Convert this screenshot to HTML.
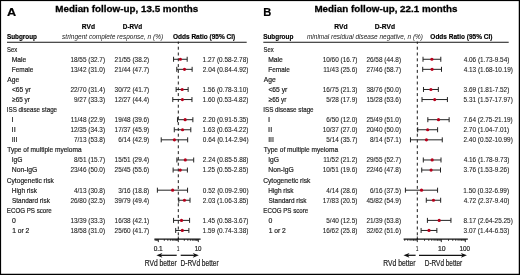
<!DOCTYPE html>
<html><head><meta charset="utf-8"><style>
html,body{margin:0;padding:0;background:#fff;}
body{width:520px;height:275px;overflow:hidden;}
svg{display:block;font-family:"Liberation Sans", sans-serif;}
.t{filter:grayscale(1);}
</style></head><body>
<svg width="520" height="275" viewBox="0 0 520 275">
<rect x="0" y="0" width="520" height="275" fill="#fff"/>
<rect x="7" y="41.75" width="239.70" height="1.05" fill="#222"/>
<line x1="178.3" y1="41.6" x2="178.3" y2="239" stroke="#1a1a1a" stroke-width="1" stroke-dasharray="3 2.8" stroke-dashoffset="0.7"/>
<line x1="173.57" y1="59.27" x2="187.18" y2="59.27" stroke="#222" stroke-width="1"/>
<line x1="173.57" y1="56.77" x2="173.57" y2="61.77" stroke="#222" stroke-width="1"/>
<line x1="187.18" y1="56.77" x2="187.18" y2="61.77" stroke="#222" stroke-width="1"/>
<circle cx="180.38" cy="59.27" r="1.6" fill="#b8001c"/>
<line x1="176.79" y1="69.34" x2="192.14" y2="69.34" stroke="#222" stroke-width="1"/>
<line x1="176.79" y1="66.84" x2="176.79" y2="71.84" stroke="#222" stroke-width="1"/>
<line x1="192.14" y1="66.84" x2="192.14" y2="71.84" stroke="#222" stroke-width="1"/>
<circle cx="184.49" cy="69.34" r="1.6" fill="#b8001c"/>
<line x1="176.14" y1="89.48" x2="188.13" y2="89.48" stroke="#222" stroke-width="1"/>
<line x1="176.14" y1="86.98" x2="176.14" y2="91.98" stroke="#222" stroke-width="1"/>
<line x1="188.13" y1="86.98" x2="188.13" y2="91.98" stroke="#222" stroke-width="1"/>
<circle cx="182.16" cy="89.48" r="1.6" fill="#b8001c"/>
<line x1="172.79" y1="99.55" x2="191.96" y2="99.55" stroke="#222" stroke-width="1"/>
<line x1="172.79" y1="97.05" x2="172.79" y2="102.05" stroke="#222" stroke-width="1"/>
<line x1="191.96" y1="97.05" x2="191.96" y2="102.05" stroke="#222" stroke-width="1"/>
<circle cx="182.38" cy="99.55" r="1.6" fill="#b8001c"/>
<line x1="177.48" y1="119.69" x2="192.87" y2="119.69" stroke="#222" stroke-width="1"/>
<line x1="177.48" y1="117.19" x2="177.48" y2="122.19" stroke="#222" stroke-width="1"/>
<line x1="192.87" y1="117.19" x2="192.87" y2="122.19" stroke="#222" stroke-width="1"/>
<circle cx="185.15" cy="119.69" r="1.6" fill="#b8001c"/>
<line x1="174.29" y1="129.76" x2="190.81" y2="129.76" stroke="#222" stroke-width="1"/>
<line x1="174.29" y1="127.26" x2="174.29" y2="132.26" stroke="#222" stroke-width="1"/>
<line x1="190.81" y1="127.26" x2="190.81" y2="132.26" stroke="#222" stroke-width="1"/>
<circle cx="182.54" cy="129.76" r="1.6" fill="#b8001c"/>
<line x1="161.22" y1="139.83" x2="187.67" y2="139.83" stroke="#222" stroke-width="1"/>
<line x1="161.22" y1="137.33" x2="161.22" y2="142.33" stroke="#222" stroke-width="1"/>
<line x1="187.67" y1="137.33" x2="187.67" y2="142.33" stroke="#222" stroke-width="1"/>
<circle cx="174.42" cy="139.83" r="1.6" fill="#b8001c"/>
<line x1="176.89" y1="159.97" x2="193.69" y2="159.97" stroke="#222" stroke-width="1"/>
<line x1="176.89" y1="157.47" x2="176.89" y2="162.47" stroke="#222" stroke-width="1"/>
<line x1="193.69" y1="157.47" x2="193.69" y2="162.47" stroke="#222" stroke-width="1"/>
<circle cx="185.30" cy="159.97" r="1.6" fill="#b8001c"/>
<line x1="173.11" y1="170.04" x2="187.40" y2="170.04" stroke="#222" stroke-width="1"/>
<line x1="173.11" y1="167.54" x2="173.11" y2="172.54" stroke="#222" stroke-width="1"/>
<line x1="187.40" y1="167.54" x2="187.40" y2="172.54" stroke="#222" stroke-width="1"/>
<circle cx="180.24" cy="170.04" r="1.6" fill="#b8001c"/>
<line x1="157.38" y1="190.18" x2="187.55" y2="190.18" stroke="#222" stroke-width="1"/>
<line x1="157.38" y1="187.68" x2="157.38" y2="192.68" stroke="#222" stroke-width="1"/>
<line x1="187.55" y1="187.68" x2="187.55" y2="192.68" stroke="#222" stroke-width="1"/>
<circle cx="172.62" cy="190.18" r="1.6" fill="#b8001c"/>
<line x1="178.81" y1="200.25" x2="190.01" y2="200.25" stroke="#222" stroke-width="1"/>
<line x1="178.81" y1="197.75" x2="178.81" y2="202.75" stroke="#222" stroke-width="1"/>
<line x1="190.01" y1="197.75" x2="190.01" y2="202.75" stroke="#222" stroke-width="1"/>
<circle cx="184.45" cy="200.25" r="1.6" fill="#b8001c"/>
<line x1="173.57" y1="220.39" x2="189.59" y2="220.39" stroke="#222" stroke-width="1"/>
<line x1="173.57" y1="217.89" x2="173.57" y2="222.89" stroke="#222" stroke-width="1"/>
<line x1="189.59" y1="217.89" x2="189.59" y2="222.89" stroke="#222" stroke-width="1"/>
<circle cx="181.53" cy="220.39" r="1.6" fill="#b8001c"/>
<line x1="175.68" y1="230.46" x2="188.88" y2="230.46" stroke="#222" stroke-width="1"/>
<line x1="175.68" y1="227.96" x2="175.68" y2="232.96" stroke="#222" stroke-width="1"/>
<line x1="188.88" y1="227.96" x2="188.88" y2="232.96" stroke="#222" stroke-width="1"/>
<circle cx="182.33" cy="230.46" r="1.6" fill="#b8001c"/>
<line x1="154.4" y1="239.1" x2="200.6" y2="239.1" stroke="#111" stroke-width="1.2"/>
<line x1="155.20" y1="239.10" x2="155.20" y2="240.90" stroke="#111" stroke-width="0.8"/>
<line x1="156.36" y1="239.10" x2="156.36" y2="240.90" stroke="#111" stroke-width="0.8"/>
<line x1="157.38" y1="239.10" x2="157.38" y2="240.90" stroke="#111" stroke-width="0.8"/>
<line x1="158.30" y1="239.10" x2="158.30" y2="242.10" stroke="#111" stroke-width="0.9"/>
<line x1="164.32" y1="239.10" x2="164.32" y2="240.90" stroke="#111" stroke-width="0.8"/>
<line x1="167.84" y1="239.10" x2="167.84" y2="240.90" stroke="#111" stroke-width="0.8"/>
<line x1="170.34" y1="239.10" x2="170.34" y2="240.90" stroke="#111" stroke-width="0.8"/>
<line x1="172.28" y1="239.10" x2="172.28" y2="240.90" stroke="#111" stroke-width="0.8"/>
<line x1="173.86" y1="239.10" x2="173.86" y2="240.90" stroke="#111" stroke-width="0.8"/>
<line x1="175.20" y1="239.10" x2="175.20" y2="240.90" stroke="#111" stroke-width="0.8"/>
<line x1="176.36" y1="239.10" x2="176.36" y2="240.90" stroke="#111" stroke-width="0.8"/>
<line x1="177.38" y1="239.10" x2="177.38" y2="240.90" stroke="#111" stroke-width="0.8"/>
<line x1="178.30" y1="236.50" x2="178.30" y2="242.10" stroke="#111" stroke-width="0.9"/>
<line x1="184.32" y1="239.10" x2="184.32" y2="240.90" stroke="#111" stroke-width="0.8"/>
<line x1="187.84" y1="239.10" x2="187.84" y2="240.90" stroke="#111" stroke-width="0.8"/>
<line x1="190.34" y1="239.10" x2="190.34" y2="240.90" stroke="#111" stroke-width="0.8"/>
<line x1="192.28" y1="239.10" x2="192.28" y2="240.90" stroke="#111" stroke-width="0.8"/>
<line x1="193.86" y1="239.10" x2="193.86" y2="240.90" stroke="#111" stroke-width="0.8"/>
<line x1="195.20" y1="239.10" x2="195.20" y2="240.90" stroke="#111" stroke-width="0.8"/>
<line x1="196.36" y1="239.10" x2="196.36" y2="240.90" stroke="#111" stroke-width="0.8"/>
<line x1="197.38" y1="239.10" x2="197.38" y2="240.90" stroke="#111" stroke-width="0.8"/>
<line x1="198.30" y1="239.10" x2="198.30" y2="242.10" stroke="#111" stroke-width="0.9"/>
<line x1="160.4" y1="255.3" x2="176.7" y2="255.3" stroke="#111" stroke-width="1.25"/>
<path d="M156.4 255.3 L162.4 252.95000000000002 L160.8 255.3 L162.4 257.65000000000003 Z" fill="#111"/>
<line x1="180.7" y1="255.3" x2="194.8" y2="255.3" stroke="#111" stroke-width="1.25"/>
<path d="M198.8 255.3 L192.8 252.95000000000002 L194.4 255.3 L192.8 257.65000000000003 Z" fill="#111"/>
<rect x="263.3" y="41.75" width="245.40" height="1.05" fill="#222"/>
<line x1="417.3" y1="41.6" x2="417.3" y2="239" stroke="#1a1a1a" stroke-width="1" stroke-dasharray="3 2.8" stroke-dashoffset="0.7"/>
<line x1="423.01" y1="59.27" x2="440.81" y2="59.27" stroke="#222" stroke-width="1"/>
<line x1="423.01" y1="56.77" x2="423.01" y2="61.77" stroke="#222" stroke-width="1"/>
<line x1="440.81" y1="56.77" x2="440.81" y2="61.77" stroke="#222" stroke-width="1"/>
<circle cx="431.90" cy="59.27" r="1.6" fill="#b8001c"/>
<line x1="422.71" y1="69.34" x2="441.50" y2="69.34" stroke="#222" stroke-width="1"/>
<line x1="422.71" y1="66.84" x2="422.71" y2="71.84" stroke="#222" stroke-width="1"/>
<line x1="441.50" y1="66.84" x2="441.50" y2="71.84" stroke="#222" stroke-width="1"/>
<circle cx="432.08" cy="69.34" r="1.6" fill="#b8001c"/>
<line x1="423.48" y1="89.48" x2="438.33" y2="89.48" stroke="#222" stroke-width="1"/>
<line x1="423.48" y1="86.98" x2="423.48" y2="91.98" stroke="#222" stroke-width="1"/>
<line x1="438.33" y1="86.98" x2="438.33" y2="91.98" stroke="#222" stroke-width="1"/>
<circle cx="430.91" cy="89.48" r="1.6" fill="#b8001c"/>
<line x1="422.00" y1="99.55" x2="447.41" y2="99.55" stroke="#222" stroke-width="1"/>
<line x1="422.00" y1="97.05" x2="422.00" y2="102.05" stroke="#222" stroke-width="1"/>
<line x1="447.41" y1="97.05" x2="447.41" y2="102.05" stroke="#222" stroke-width="1"/>
<circle cx="434.70" cy="99.55" r="1.6" fill="#b8001c"/>
<line x1="427.84" y1="119.69" x2="449.13" y2="119.69" stroke="#222" stroke-width="1"/>
<line x1="427.84" y1="117.19" x2="427.84" y2="122.19" stroke="#222" stroke-width="1"/>
<line x1="449.13" y1="117.19" x2="449.13" y2="122.19" stroke="#222" stroke-width="1"/>
<circle cx="438.49" cy="119.69" r="1.6" fill="#b8001c"/>
<line x1="417.71" y1="129.76" x2="437.60" y2="129.76" stroke="#222" stroke-width="1"/>
<line x1="417.71" y1="127.26" x2="417.71" y2="132.26" stroke="#222" stroke-width="1"/>
<line x1="437.60" y1="127.26" x2="437.60" y2="132.26" stroke="#222" stroke-width="1"/>
<circle cx="427.65" cy="129.76" r="1.6" fill="#b8001c"/>
<line x1="410.48" y1="139.83" x2="442.28" y2="139.83" stroke="#222" stroke-width="1"/>
<line x1="410.48" y1="137.33" x2="410.48" y2="142.33" stroke="#222" stroke-width="1"/>
<line x1="442.28" y1="137.33" x2="442.28" y2="142.33" stroke="#222" stroke-width="1"/>
<circle cx="426.43" cy="139.83" r="1.6" fill="#b8001c"/>
<line x1="423.31" y1="159.97" x2="441.01" y2="159.97" stroke="#222" stroke-width="1"/>
<line x1="423.31" y1="157.47" x2="423.31" y2="162.47" stroke="#222" stroke-width="1"/>
<line x1="441.01" y1="157.47" x2="441.01" y2="162.47" stroke="#222" stroke-width="1"/>
<circle cx="432.16" cy="159.97" r="1.6" fill="#b8001c"/>
<line x1="421.73" y1="170.04" x2="440.50" y2="170.04" stroke="#222" stroke-width="1"/>
<line x1="421.73" y1="167.54" x2="421.73" y2="172.54" stroke="#222" stroke-width="1"/>
<line x1="440.50" y1="167.54" x2="440.50" y2="172.54" stroke="#222" stroke-width="1"/>
<circle cx="431.10" cy="170.04" r="1.6" fill="#b8001c"/>
<line x1="405.42" y1="190.18" x2="437.57" y2="190.18" stroke="#222" stroke-width="1"/>
<line x1="405.42" y1="187.68" x2="405.42" y2="192.68" stroke="#222" stroke-width="1"/>
<line x1="437.57" y1="187.68" x2="437.57" y2="192.68" stroke="#222" stroke-width="1"/>
<circle cx="421.53" cy="190.18" r="1.6" fill="#b8001c"/>
<line x1="426.29" y1="200.25" x2="440.66" y2="200.25" stroke="#222" stroke-width="1"/>
<line x1="426.29" y1="197.75" x2="426.29" y2="202.75" stroke="#222" stroke-width="1"/>
<line x1="440.66" y1="197.75" x2="440.66" y2="202.75" stroke="#222" stroke-width="1"/>
<circle cx="433.47" cy="200.25" r="1.6" fill="#b8001c"/>
<line x1="427.42" y1="220.39" x2="450.95" y2="220.39" stroke="#222" stroke-width="1"/>
<line x1="427.42" y1="217.89" x2="427.42" y2="222.89" stroke="#222" stroke-width="1"/>
<line x1="450.95" y1="217.89" x2="450.95" y2="222.89" stroke="#222" stroke-width="1"/>
<circle cx="439.19" cy="220.39" r="1.6" fill="#b8001c"/>
<line x1="421.10" y1="230.46" x2="436.86" y2="230.46" stroke="#222" stroke-width="1"/>
<line x1="421.10" y1="227.96" x2="421.10" y2="232.96" stroke="#222" stroke-width="1"/>
<line x1="436.86" y1="227.96" x2="436.86" y2="232.96" stroke="#222" stroke-width="1"/>
<circle cx="428.99" cy="230.46" r="1.6" fill="#b8001c"/>
<line x1="403.6" y1="239.1" x2="467.8" y2="239.1" stroke="#111" stroke-width="1.2"/>
<line x1="404.75" y1="239.10" x2="404.75" y2="240.90" stroke="#111" stroke-width="0.8"/>
<line x1="407.75" y1="239.10" x2="407.75" y2="240.90" stroke="#111" stroke-width="0.8"/>
<line x1="410.08" y1="239.10" x2="410.08" y2="240.90" stroke="#111" stroke-width="0.8"/>
<line x1="411.98" y1="239.10" x2="411.98" y2="240.90" stroke="#111" stroke-width="0.8"/>
<line x1="413.58" y1="239.10" x2="413.58" y2="240.90" stroke="#111" stroke-width="0.8"/>
<line x1="414.97" y1="239.10" x2="414.97" y2="240.90" stroke="#111" stroke-width="0.8"/>
<line x1="416.20" y1="239.10" x2="416.20" y2="240.90" stroke="#111" stroke-width="0.8"/>
<line x1="417.30" y1="236.50" x2="417.30" y2="242.10" stroke="#111" stroke-width="0.9"/>
<line x1="424.52" y1="239.10" x2="424.52" y2="240.90" stroke="#111" stroke-width="0.8"/>
<line x1="428.75" y1="239.10" x2="428.75" y2="240.90" stroke="#111" stroke-width="0.8"/>
<line x1="431.75" y1="239.10" x2="431.75" y2="240.90" stroke="#111" stroke-width="0.8"/>
<line x1="434.08" y1="239.10" x2="434.08" y2="240.90" stroke="#111" stroke-width="0.8"/>
<line x1="435.98" y1="239.10" x2="435.98" y2="240.90" stroke="#111" stroke-width="0.8"/>
<line x1="437.58" y1="239.10" x2="437.58" y2="240.90" stroke="#111" stroke-width="0.8"/>
<line x1="438.97" y1="239.10" x2="438.97" y2="240.90" stroke="#111" stroke-width="0.8"/>
<line x1="440.20" y1="239.10" x2="440.20" y2="240.90" stroke="#111" stroke-width="0.8"/>
<line x1="441.30" y1="239.10" x2="441.30" y2="242.10" stroke="#111" stroke-width="0.9"/>
<line x1="448.52" y1="239.10" x2="448.52" y2="240.90" stroke="#111" stroke-width="0.8"/>
<line x1="452.75" y1="239.10" x2="452.75" y2="240.90" stroke="#111" stroke-width="0.8"/>
<line x1="455.75" y1="239.10" x2="455.75" y2="240.90" stroke="#111" stroke-width="0.8"/>
<line x1="458.08" y1="239.10" x2="458.08" y2="240.90" stroke="#111" stroke-width="0.8"/>
<line x1="459.98" y1="239.10" x2="459.98" y2="240.90" stroke="#111" stroke-width="0.8"/>
<line x1="461.58" y1="239.10" x2="461.58" y2="240.90" stroke="#111" stroke-width="0.8"/>
<line x1="462.97" y1="239.10" x2="462.97" y2="240.90" stroke="#111" stroke-width="0.8"/>
<line x1="464.20" y1="239.10" x2="464.20" y2="240.90" stroke="#111" stroke-width="0.8"/>
<line x1="465.30" y1="239.10" x2="465.30" y2="242.10" stroke="#111" stroke-width="0.9"/>
<line x1="407.5" y1="255.3" x2="415.6" y2="255.3" stroke="#111" stroke-width="1.25"/>
<path d="M403.5 255.3 L409.5 252.95000000000002 L407.9 255.3 L409.5 257.65000000000003 Z" fill="#111"/>
<line x1="419" y1="255.3" x2="462.9" y2="255.3" stroke="#111" stroke-width="1.25"/>
<path d="M466.9 255.3 L460.9 252.95000000000002 L462.5 255.3 L460.9 257.65000000000003 Z" fill="#111"/>
<g class="t">
<text transform="translate(6.98 15.60) scale(1.1129 1)" font-size="11.4" font-weight="bold" stroke="#000" stroke-width="0.2" fill="#000">A</text>
<text transform="translate(55.24 12.00) scale(0.9942 1)" font-size="9.9" font-weight="bold" stroke="#000" stroke-width="0.3" fill="#000">Median follow-up, 13.5 months</text>
<text transform="translate(81.85 28.60) scale(0.9247 1)" font-size="7.2" font-weight="bold" stroke="#000" stroke-width="0.2" fill="#000">RVd</text>
<text transform="translate(122.77 28.60) scale(0.8893 1)" font-size="7.2" font-weight="bold" stroke="#000" stroke-width="0.2" fill="#000">D-RVd</text>
<text transform="translate(6.91 39.10) scale(0.8749 1)" font-size="7.3" font-weight="bold" stroke="#000" stroke-width="0.2" fill="#000">Subgroup</text>
<text transform="translate(62.08 38.60) scale(0.9064 1)" font-size="7.2" stroke="#222" stroke-width="0.0001" font-style="italic" fill="#222">stringent complete response, n (%)</text>
<text transform="translate(172.94 38.80) scale(0.8956 1)" font-size="7.3" font-weight="bold" stroke="#000" stroke-width="0.2" fill="#000">Odds Ratio (95% CI)</text>
<text transform="translate(7.04 51.60) scale(0.7954 1)" font-size="7.4" stroke="#1c1c1c" stroke-width="0.2" fill="#1c1c1c">Sex</text>
<text transform="translate(11.74 61.67) scale(0.9130 1)" font-size="7.4" stroke="#1c1c1c" stroke-width="0.2" fill="#1c1c1c">Male</text>
<text transform="translate(70.39 61.67) scale(0.8700 1)" font-size="7.4" stroke="#1c1c1c" stroke-width="0.1" fill="#1c1c1c">18/55 (32.7)</text>
<text transform="translate(114.59 61.67) scale(0.8700 1)" font-size="7.4" stroke="#1c1c1c" stroke-width="0.1" fill="#1c1c1c">21/55 (38.2)</text>
<text transform="translate(202.62 61.67) scale(0.8700 1)" font-size="7.4" stroke="#1c1c1c" stroke-width="0.1" fill="#1c1c1c">1.27 (0.58-2.78)</text>
<text transform="translate(11.77 71.74) scale(0.8721 1)" font-size="7.4" stroke="#1c1c1c" stroke-width="0.2" fill="#1c1c1c">Female</text>
<text transform="translate(70.39 71.74) scale(0.8700 1)" font-size="7.4" stroke="#1c1c1c" stroke-width="0.1" fill="#1c1c1c">13/42 (31.0)</text>
<text transform="translate(114.59 71.74) scale(0.8700 1)" font-size="7.4" stroke="#1c1c1c" stroke-width="0.1" fill="#1c1c1c">21/44 (47.7)</text>
<text transform="translate(202.78 71.74) scale(0.8700 1)" font-size="7.4" stroke="#1c1c1c" stroke-width="0.1" fill="#1c1c1c">2.04 (0.84-4.92)</text>
<text transform="translate(7.28 81.81) scale(0.9048 1)" font-size="7.4" stroke="#1c1c1c" stroke-width="0.2" fill="#1c1c1c">Age</text>
<text transform="translate(11.96 91.88) scale(0.9066 1)" font-size="7.4" stroke="#1c1c1c" stroke-width="0.2" fill="#1c1c1c">&lt;65 yr</text>
<text transform="translate(70.39 91.88) scale(0.8700 1)" font-size="7.4" stroke="#1c1c1c" stroke-width="0.1" fill="#1c1c1c">22/70 (31.4)</text>
<text transform="translate(114.59 91.88) scale(0.8700 1)" font-size="7.4" stroke="#1c1c1c" stroke-width="0.1" fill="#1c1c1c">30/72 (41.7)</text>
<text transform="translate(202.62 91.88) scale(0.8700 1)" font-size="7.4" stroke="#1c1c1c" stroke-width="0.1" fill="#1c1c1c">1.56 (0.78-3.10)</text>
<text transform="translate(12.09 101.95) scale(0.8728 1)" font-size="7.4" stroke="#1c1c1c" stroke-width="0.2" fill="#1c1c1c">≥65 yr</text>
<text transform="translate(73.97 101.95) scale(0.8700 1)" font-size="7.4" stroke="#1c1c1c" stroke-width="0.1" fill="#1c1c1c">9/27 (33.3)</text>
<text transform="translate(114.59 101.95) scale(0.8700 1)" font-size="7.4" stroke="#1c1c1c" stroke-width="0.1" fill="#1c1c1c">12/27 (44.4)</text>
<text transform="translate(202.62 101.95) scale(0.8700 1)" font-size="7.4" stroke="#1c1c1c" stroke-width="0.1" fill="#1c1c1c">1.60 (0.53-4.82)</text>
<text transform="translate(6.72 112.02) scale(0.8458 1)" font-size="7.4" stroke="#1c1c1c" stroke-width="0.2" fill="#1c1c1c">ISS disease stage</text>
<text transform="translate(11.60 122.09) scale(1.0226 1)" font-size="7.4" stroke="#1c1c1c" stroke-width="0.2" fill="#1c1c1c">I</text>
<text transform="translate(70.87 122.09) scale(0.8700 1)" font-size="7.4" stroke="#1c1c1c" stroke-width="0.1" fill="#1c1c1c">11/48 (22.9)</text>
<text transform="translate(114.59 122.09) scale(0.8700 1)" font-size="7.4" stroke="#1c1c1c" stroke-width="0.1" fill="#1c1c1c">19/48 (39.6)</text>
<text transform="translate(202.78 122.09) scale(0.8700 1)" font-size="7.4" stroke="#1c1c1c" stroke-width="0.1" fill="#1c1c1c">2.20 (0.91-5.35)</text>
<text transform="translate(11.62 132.16) scale(0.9861 1)" font-size="7.4" stroke="#1c1c1c" stroke-width="0.2" fill="#1c1c1c">II</text>
<text transform="translate(70.39 132.16) scale(0.8700 1)" font-size="7.4" stroke="#1c1c1c" stroke-width="0.1" fill="#1c1c1c">12/35 (34.3)</text>
<text transform="translate(114.59 132.16) scale(0.8700 1)" font-size="7.4" stroke="#1c1c1c" stroke-width="0.1" fill="#1c1c1c">17/37 (45.9)</text>
<text transform="translate(202.62 132.16) scale(0.8700 1)" font-size="7.4" stroke="#1c1c1c" stroke-width="0.1" fill="#1c1c1c">1.63 (0.63-4.22)</text>
<text transform="translate(11.66 142.23) scale(0.9392 1)" font-size="7.4" stroke="#1c1c1c" stroke-width="0.2" fill="#1c1c1c">III</text>
<text transform="translate(73.97 142.23) scale(0.8700 1)" font-size="7.4" stroke="#1c1c1c" stroke-width="0.1" fill="#1c1c1c">7/13 (53.8)</text>
<text transform="translate(118.17 142.23) scale(0.8700 1)" font-size="7.4" stroke="#1c1c1c" stroke-width="0.1" fill="#1c1c1c">6/14 (42.9)</text>
<text transform="translate(202.84 142.23) scale(0.8700 1)" font-size="7.4" stroke="#1c1c1c" stroke-width="0.1" fill="#1c1c1c">0.64 (0.14-2.94)</text>
<text transform="translate(7.25 152.30) scale(0.8874 1)" font-size="7.4" stroke="#1c1c1c" stroke-width="0.2" fill="#1c1c1c">Type of multiple myeloma</text>
<text transform="translate(11.68 162.37) scale(0.9071 1)" font-size="7.4" stroke="#1c1c1c" stroke-width="0.2" fill="#1c1c1c">IgG</text>
<text transform="translate(73.97 162.37) scale(0.8700 1)" font-size="7.4" stroke="#1c1c1c" stroke-width="0.1" fill="#1c1c1c">8/51 (15.7)</text>
<text transform="translate(114.59 162.37) scale(0.8700 1)" font-size="7.4" stroke="#1c1c1c" stroke-width="0.1" fill="#1c1c1c">15/51 (29.4)</text>
<text transform="translate(202.78 162.37) scale(0.8700 1)" font-size="7.4" stroke="#1c1c1c" stroke-width="0.1" fill="#1c1c1c">2.24 (0.85-5.88)</text>
<text transform="translate(11.74 172.44) scale(0.9177 1)" font-size="7.4" stroke="#1c1c1c" stroke-width="0.2" fill="#1c1c1c">Non-IgG</text>
<text transform="translate(70.39 172.44) scale(0.8700 1)" font-size="7.4" stroke="#1c1c1c" stroke-width="0.1" fill="#1c1c1c">23/46 (50.0)</text>
<text transform="translate(114.59 172.44) scale(0.8700 1)" font-size="7.4" stroke="#1c1c1c" stroke-width="0.1" fill="#1c1c1c">25/45 (55.6)</text>
<text transform="translate(202.62 172.44) scale(0.8700 1)" font-size="7.4" stroke="#1c1c1c" stroke-width="0.1" fill="#1c1c1c">1.25 (0.55-2.85)</text>
<text transform="translate(6.77 182.51) scale(0.8971 1)" font-size="7.4" stroke="#1c1c1c" stroke-width="0.2" fill="#1c1c1c">Cytogenetic risk</text>
<text transform="translate(11.77 192.58) scale(0.8731 1)" font-size="7.4" stroke="#1c1c1c" stroke-width="0.2" fill="#1c1c1c">High risk</text>
<text transform="translate(73.97 192.58) scale(0.8700 1)" font-size="7.4" stroke="#1c1c1c" stroke-width="0.1" fill="#1c1c1c">4/13 (30.8)</text>
<text transform="translate(118.17 192.58) scale(0.8700 1)" font-size="7.4" stroke="#1c1c1c" stroke-width="0.1" fill="#1c1c1c">3/16 (18.8)</text>
<text transform="translate(202.84 192.58) scale(0.8700 1)" font-size="7.4" stroke="#1c1c1c" stroke-width="0.1" fill="#1c1c1c">0.52 (0.09-2.90)</text>
<text transform="translate(12.01 202.65) scale(0.8689 1)" font-size="7.4" stroke="#1c1c1c" stroke-width="0.2" fill="#1c1c1c">Standard risk</text>
<text transform="translate(70.39 202.65) scale(0.8700 1)" font-size="7.4" stroke="#1c1c1c" stroke-width="0.1" fill="#1c1c1c">26/80 (32.5)</text>
<text transform="translate(114.59 202.65) scale(0.8700 1)" font-size="7.4" stroke="#1c1c1c" stroke-width="0.1" fill="#1c1c1c">39/79 (49.4)</text>
<text transform="translate(202.78 202.65) scale(0.8700 1)" font-size="7.4" stroke="#1c1c1c" stroke-width="0.1" fill="#1c1c1c">2.03 (1.06-3.85)</text>
<text transform="translate(6.79 212.72) scale(0.8367 1)" font-size="7.4" stroke="#1c1c1c" stroke-width="0.2" fill="#1c1c1c">ECOG PS score</text>
<text transform="translate(12.02 222.79) scale(0.9339 1)" font-size="7.4" stroke="#1c1c1c" stroke-width="0.2" fill="#1c1c1c">0</text>
<text transform="translate(70.39 222.79) scale(0.8700 1)" font-size="7.4" stroke="#1c1c1c" stroke-width="0.1" fill="#1c1c1c">13/39 (33.3)</text>
<text transform="translate(114.59 222.79) scale(0.8700 1)" font-size="7.4" stroke="#1c1c1c" stroke-width="0.1" fill="#1c1c1c">16/38 (42.1)</text>
<text transform="translate(202.62 222.79) scale(0.8700 1)" font-size="7.4" stroke="#1c1c1c" stroke-width="0.1" fill="#1c1c1c">1.45 (0.58-3.67)</text>
<text transform="translate(12.20 232.86) scale(0.9065 1)" font-size="7.4" stroke="#1c1c1c" stroke-width="0.2" fill="#1c1c1c">1 or 2</text>
<text transform="translate(70.39 232.86) scale(0.8700 1)" font-size="7.4" stroke="#1c1c1c" stroke-width="0.1" fill="#1c1c1c">18/58 (31.0)</text>
<text transform="translate(114.59 232.86) scale(0.8700 1)" font-size="7.4" stroke="#1c1c1c" stroke-width="0.1" fill="#1c1c1c">25/60 (41.7)</text>
<text transform="translate(202.62 232.86) scale(0.8700 1)" font-size="7.4" stroke="#1c1c1c" stroke-width="0.1" fill="#1c1c1c">1.59 (0.74-3.38)</text>
<text transform="translate(153.64 251.30) scale(0.9458 1)" font-size="6.9" stroke="#1c1c1c" stroke-width="0.2" fill="#1c1c1c">0.1</text>
<text transform="translate(176.99 251.30) scale(0.6032 1)" font-size="6.9" stroke="#1c1c1c" stroke-width="0.2" fill="#1c1c1c">1</text>
<text transform="translate(194.63 251.30) scale(0.9008 1)" font-size="6.9" stroke="#1c1c1c" stroke-width="0.2" fill="#1c1c1c">10</text>
<text transform="translate(144.75 265.50) scale(0.7802 1)" font-size="8.6" stroke="#1c1c1c" stroke-width="0.2" fill="#1c1c1c">RVd better</text>
<text transform="translate(180.56 265.50) scale(0.7623 1)" font-size="8.6" stroke="#1c1c1c" stroke-width="0.2" fill="#1c1c1c">D-RVd better</text>
<text transform="translate(263.15 15.60) scale(0.9779 1)" font-size="11.4" font-weight="bold" stroke="#000" stroke-width="0.2" fill="#000">B</text>
<text transform="translate(314.44 12.00) scale(0.9928 1)" font-size="9.9" font-weight="bold" stroke="#000" stroke-width="0.3" fill="#000">Median follow-up, 22.1 months</text>
<text transform="translate(334.34 28.60) scale(0.9397 1)" font-size="7.2" font-weight="bold" stroke="#000" stroke-width="0.2" fill="#000">RVd</text>
<text transform="translate(374.75 28.60) scale(0.9275 1)" font-size="7.2" font-weight="bold" stroke="#000" stroke-width="0.2" fill="#000">D-RVd</text>
<text transform="translate(263.21 39.10) scale(0.8749 1)" font-size="7.3" font-weight="bold" stroke="#000" stroke-width="0.2" fill="#000">Subgroup</text>
<text transform="translate(306.99 38.60) scale(0.8998 1)" font-size="7.2" stroke="#222" stroke-width="0.0001" font-style="italic" fill="#222">minimal residual disease negative, n (%)</text>
<text transform="translate(430.34 38.80) scale(0.8913 1)" font-size="7.3" font-weight="bold" stroke="#000" stroke-width="0.2" fill="#000">Odds Ratio (95% CI)</text>
<text transform="translate(263.54 51.60) scale(0.7954 1)" font-size="7.4" stroke="#1c1c1c" stroke-width="0.2" fill="#1c1c1c">Sex</text>
<text transform="translate(268.24 61.67) scale(0.9130 1)" font-size="7.4" stroke="#1c1c1c" stroke-width="0.2" fill="#1c1c1c">Male</text>
<text transform="translate(322.69 61.67) scale(0.8700 1)" font-size="7.4" stroke="#1c1c1c" stroke-width="0.1" fill="#1c1c1c">10/60 (16.7)</text>
<text transform="translate(366.39 61.67) scale(0.8700 1)" font-size="7.4" stroke="#1c1c1c" stroke-width="0.1" fill="#1c1c1c">26/58 (44.8)</text>
<text transform="translate(463.66 61.67) scale(0.8700 1)" font-size="7.4" stroke="#1c1c1c" stroke-width="0.1" fill="#1c1c1c">4.06 (1.73-9.54)</text>
<text transform="translate(268.27 71.74) scale(0.8721 1)" font-size="7.4" stroke="#1c1c1c" stroke-width="0.2" fill="#1c1c1c">Female</text>
<text transform="translate(323.17 71.74) scale(0.8700 1)" font-size="7.4" stroke="#1c1c1c" stroke-width="0.1" fill="#1c1c1c">11/43 (25.6)</text>
<text transform="translate(366.39 71.74) scale(0.8700 1)" font-size="7.4" stroke="#1c1c1c" stroke-width="0.1" fill="#1c1c1c">27/46 (58.7)</text>
<text transform="translate(463.66 71.74) scale(0.8700 1)" font-size="7.4" stroke="#1c1c1c" stroke-width="0.1" fill="#1c1c1c">4.13 (1.68-10.19)</text>
<text transform="translate(263.78 81.81) scale(0.9048 1)" font-size="7.4" stroke="#1c1c1c" stroke-width="0.2" fill="#1c1c1c">Age</text>
<text transform="translate(268.46 91.88) scale(0.9066 1)" font-size="7.4" stroke="#1c1c1c" stroke-width="0.2" fill="#1c1c1c">&lt;65 yr</text>
<text transform="translate(322.69 91.88) scale(0.8700 1)" font-size="7.4" stroke="#1c1c1c" stroke-width="0.1" fill="#1c1c1c">16/75 (21.3)</text>
<text transform="translate(366.39 91.88) scale(0.8700 1)" font-size="7.4" stroke="#1c1c1c" stroke-width="0.1" fill="#1c1c1c">38/76 (50.0)</text>
<text transform="translate(463.56 91.88) scale(0.8700 1)" font-size="7.4" stroke="#1c1c1c" stroke-width="0.1" fill="#1c1c1c">3.69 (1.81-7.52)</text>
<text transform="translate(268.59 101.95) scale(0.8728 1)" font-size="7.4" stroke="#1c1c1c" stroke-width="0.2" fill="#1c1c1c">≥65 yr</text>
<text transform="translate(326.27 101.95) scale(0.8700 1)" font-size="7.4" stroke="#1c1c1c" stroke-width="0.1" fill="#1c1c1c">5/28 (17.9)</text>
<text transform="translate(366.39 101.95) scale(0.8700 1)" font-size="7.4" stroke="#1c1c1c" stroke-width="0.1" fill="#1c1c1c">15/28 (53.6)</text>
<text transform="translate(463.54 101.95) scale(0.8700 1)" font-size="7.4" stroke="#1c1c1c" stroke-width="0.1" fill="#1c1c1c">5.31 (1.57-17.97)</text>
<text transform="translate(263.22 112.02) scale(0.8458 1)" font-size="7.4" stroke="#1c1c1c" stroke-width="0.2" fill="#1c1c1c">ISS disease stage</text>
<text transform="translate(268.10 122.09) scale(1.0226 1)" font-size="7.4" stroke="#1c1c1c" stroke-width="0.2" fill="#1c1c1c">I</text>
<text transform="translate(326.27 122.09) scale(0.8700 1)" font-size="7.4" stroke="#1c1c1c" stroke-width="0.1" fill="#1c1c1c">6/50 (12.0)</text>
<text transform="translate(366.39 122.09) scale(0.8700 1)" font-size="7.4" stroke="#1c1c1c" stroke-width="0.1" fill="#1c1c1c">25/49 (51.0)</text>
<text transform="translate(463.46 122.09) scale(0.8700 1)" font-size="7.4" stroke="#1c1c1c" stroke-width="0.1" fill="#1c1c1c">7.64 (2.75-21.19)</text>
<text transform="translate(268.12 132.16) scale(0.9861 1)" font-size="7.4" stroke="#1c1c1c" stroke-width="0.2" fill="#1c1c1c">II</text>
<text transform="translate(322.69 132.16) scale(0.8700 1)" font-size="7.4" stroke="#1c1c1c" stroke-width="0.1" fill="#1c1c1c">10/37 (27.0)</text>
<text transform="translate(366.39 132.16) scale(0.8700 1)" font-size="7.4" stroke="#1c1c1c" stroke-width="0.1" fill="#1c1c1c">20/40 (50.0)</text>
<text transform="translate(463.48 132.16) scale(0.8700 1)" font-size="7.4" stroke="#1c1c1c" stroke-width="0.1" fill="#1c1c1c">2.70 (1.04-7.01)</text>
<text transform="translate(268.16 142.23) scale(0.9392 1)" font-size="7.4" stroke="#1c1c1c" stroke-width="0.2" fill="#1c1c1c">III</text>
<text transform="translate(326.27 142.23) scale(0.8700 1)" font-size="7.4" stroke="#1c1c1c" stroke-width="0.1" fill="#1c1c1c">5/14 (35.7)</text>
<text transform="translate(369.97 142.23) scale(0.8700 1)" font-size="7.4" stroke="#1c1c1c" stroke-width="0.1" fill="#1c1c1c">8/14 (57.1)</text>
<text transform="translate(463.48 142.23) scale(0.8700 1)" font-size="7.4" stroke="#1c1c1c" stroke-width="0.1" fill="#1c1c1c">2.40 (0.52-10.99)</text>
<text transform="translate(263.75 152.30) scale(0.8874 1)" font-size="7.4" stroke="#1c1c1c" stroke-width="0.2" fill="#1c1c1c">Type of multiple myeloma</text>
<text transform="translate(268.18 162.37) scale(0.9071 1)" font-size="7.4" stroke="#1c1c1c" stroke-width="0.2" fill="#1c1c1c">IgG</text>
<text transform="translate(323.17 162.37) scale(0.8700 1)" font-size="7.4" stroke="#1c1c1c" stroke-width="0.1" fill="#1c1c1c">11/52 (21.2)</text>
<text transform="translate(366.39 162.37) scale(0.8700 1)" font-size="7.4" stroke="#1c1c1c" stroke-width="0.1" fill="#1c1c1c">29/55 (52.7)</text>
<text transform="translate(463.66 162.37) scale(0.8700 1)" font-size="7.4" stroke="#1c1c1c" stroke-width="0.1" fill="#1c1c1c">4.16 (1.78-9.73)</text>
<text transform="translate(268.24 172.44) scale(0.9177 1)" font-size="7.4" stroke="#1c1c1c" stroke-width="0.2" fill="#1c1c1c">Non-IgG</text>
<text transform="translate(322.69 172.44) scale(0.8700 1)" font-size="7.4" stroke="#1c1c1c" stroke-width="0.1" fill="#1c1c1c">10/51 (19.6)</text>
<text transform="translate(366.39 172.44) scale(0.8700 1)" font-size="7.4" stroke="#1c1c1c" stroke-width="0.1" fill="#1c1c1c">22/46 (47.8)</text>
<text transform="translate(463.56 172.44) scale(0.8700 1)" font-size="7.4" stroke="#1c1c1c" stroke-width="0.1" fill="#1c1c1c">3.76 (1.53-9.26)</text>
<text transform="translate(263.27 182.51) scale(0.8971 1)" font-size="7.4" stroke="#1c1c1c" stroke-width="0.2" fill="#1c1c1c">Cytogenetic risk</text>
<text transform="translate(268.27 192.58) scale(0.8731 1)" font-size="7.4" stroke="#1c1c1c" stroke-width="0.2" fill="#1c1c1c">High risk</text>
<text transform="translate(326.27 192.58) scale(0.8700 1)" font-size="7.4" stroke="#1c1c1c" stroke-width="0.1" fill="#1c1c1c">4/14 (28.6)</text>
<text transform="translate(369.97 192.58) scale(0.8700 1)" font-size="7.4" stroke="#1c1c1c" stroke-width="0.1" fill="#1c1c1c">6/16 (37.5)</text>
<text transform="translate(463.32 192.58) scale(0.8700 1)" font-size="7.4" stroke="#1c1c1c" stroke-width="0.1" fill="#1c1c1c">1.50 (0.32-6.99)</text>
<text transform="translate(268.51 202.65) scale(0.8689 1)" font-size="7.4" stroke="#1c1c1c" stroke-width="0.2" fill="#1c1c1c">Standard risk</text>
<text transform="translate(322.69 202.65) scale(0.8700 1)" font-size="7.4" stroke="#1c1c1c" stroke-width="0.1" fill="#1c1c1c">17/83 (20.5)</text>
<text transform="translate(366.39 202.65) scale(0.8700 1)" font-size="7.4" stroke="#1c1c1c" stroke-width="0.1" fill="#1c1c1c">45/82 (54.9)</text>
<text transform="translate(463.66 202.65) scale(0.8700 1)" font-size="7.4" stroke="#1c1c1c" stroke-width="0.1" fill="#1c1c1c">4.72 (2.37-9.40)</text>
<text transform="translate(263.29 212.72) scale(0.8367 1)" font-size="7.4" stroke="#1c1c1c" stroke-width="0.2" fill="#1c1c1c">ECOG PS score</text>
<text transform="translate(268.52 222.79) scale(0.9339 1)" font-size="7.4" stroke="#1c1c1c" stroke-width="0.2" fill="#1c1c1c">0</text>
<text transform="translate(326.27 222.79) scale(0.8700 1)" font-size="7.4" stroke="#1c1c1c" stroke-width="0.1" fill="#1c1c1c">5/40 (12.5)</text>
<text transform="translate(366.39 222.79) scale(0.8700 1)" font-size="7.4" stroke="#1c1c1c" stroke-width="0.1" fill="#1c1c1c">21/39 (53.8)</text>
<text transform="translate(463.53 222.79) scale(0.8700 1)" font-size="7.4" stroke="#1c1c1c" stroke-width="0.1" fill="#1c1c1c">8.17 (2.64-25.25)</text>
<text transform="translate(268.70 232.86) scale(0.9065 1)" font-size="7.4" stroke="#1c1c1c" stroke-width="0.2" fill="#1c1c1c">1 or 2</text>
<text transform="translate(322.69 232.86) scale(0.8700 1)" font-size="7.4" stroke="#1c1c1c" stroke-width="0.1" fill="#1c1c1c">16/62 (25.8)</text>
<text transform="translate(366.39 232.86) scale(0.8700 1)" font-size="7.4" stroke="#1c1c1c" stroke-width="0.1" fill="#1c1c1c">32/62 (51.6)</text>
<text transform="translate(463.56 232.86) scale(0.8700 1)" font-size="7.4" stroke="#1c1c1c" stroke-width="0.1" fill="#1c1c1c">3.07 (1.44-6.53)</text>
<text transform="translate(415.99 251.30) scale(0.6032 1)" font-size="6.9" stroke="#1c1c1c" stroke-width="0.2" fill="#1c1c1c">1</text>
<text transform="translate(437.88 251.30) scale(1.0025 1)" font-size="6.9" stroke="#1c1c1c" stroke-width="0.2" fill="#1c1c1c">10</text>
<text transform="translate(459.43 251.30) scale(0.9134 1)" font-size="6.9" stroke="#1c1c1c" stroke-width="0.2" fill="#1c1c1c">100</text>
<text transform="translate(383.34 265.50) scale(0.7877 1)" font-size="8.6" stroke="#1c1c1c" stroke-width="0.2" fill="#1c1c1c">RVd better</text>
<text transform="translate(424.77 265.50) scale(0.7501 1)" font-size="8.6" stroke="#1c1c1c" stroke-width="0.2" fill="#1c1c1c">D-RVd better</text>
</g>
<rect x="0" y="0" width="520" height="1.1" fill="#000"/>
<rect x="0" y="0" width="1.1" height="275" fill="#000"/>
<rect x="518.75" y="0" width="1.25" height="275" fill="#000"/>
<rect x="0" y="273.75" width="520" height="1.25" fill="#000"/>
</svg>
</body></html>
